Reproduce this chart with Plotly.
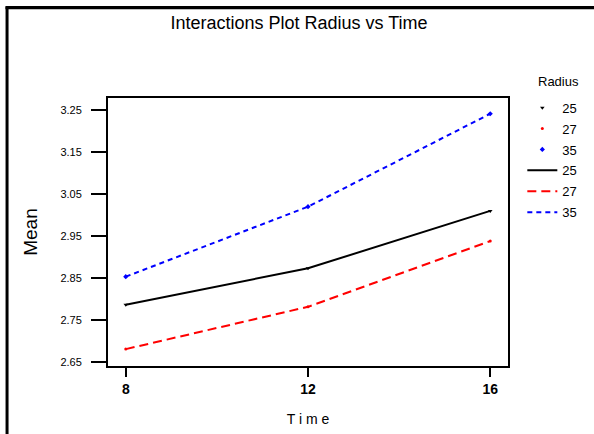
import plotly.graph_objects as go

time = [8, 12, 16]
radius_labels = ["25", "27", "35"]
mean_25 = [2.786, 2.873, 3.010]
mean_27 = [2.680, 2.781, 2.938]
mean_35 = [2.853, 3.020, 3.242]
y_ticks = [2.65, 2.75, 2.85, 2.95, 3.05, 3.15, 3.25]
x_ticks = [8, 12, 16]

series = [mean_25, mean_27, mean_35]
colors = ["black", "red", "blue"]
symbols = ["triangle-down", "circle", "diamond"]
msizes = [4, 3, 4]
dashes = ["solid", "9px,5px", "5px,4px"]

fig = go.Figure()
for i, (lab, vals) in enumerate(zip(radius_labels, series)):
    fig.add_trace(go.Scatter(
        x=time, y=vals, mode="lines", name=lab, showlegend=False,
        line=dict(color=colors[i], width=2, dash=dashes[i]),
    ))
for i, (lab, vals) in enumerate(zip(radius_labels, series)):
    fig.add_trace(go.Scatter(
        x=time, y=vals, mode="markers", name=lab, legendgroup="m" + lab,
        marker=dict(color=colors[i], symbol=symbols[i], size=msizes[i]),
    ))
for i, (lab, vals) in enumerate(zip(radius_labels, series)):
    fig.add_trace(go.Scatter(
        x=[None], y=[None], mode="lines", name=lab, legendgroup="l" + lab,
        line=dict(color=colors[i], width=2, dash=dashes[i]),
    ))

L, R, T, B = 108.3, 507.7, 98.3, 366.0
W, H = 594, 434
pw, ph = R - L, B - T

def px(x):
    return (x - L) / pw

def py(y):
    return (B - y) / ph

shapes = [
    dict(type="line", xref="paper", yref="paper", x0=px(7.5), x1=px(7.5),
         y0=py(7), y1=py(440), line=dict(color="black", width=3)),
]
for yy in [7.0, 8.0, 9.0]:
    shapes.append(dict(type="line", xref="paper", yref="paper", x0=px(6), x1=px(594),
                       y0=py(yy), y1=py(yy), line=dict(color="black", width=1.2)))

fig.update_layout(
    width=W, height=H,
    margin=dict(l=L, r=W - R, t=T, b=H - B, pad=0, autoexpand=False),
    paper_bgcolor="white", plot_bgcolor="white",
    font=dict(family="Liberation Sans, Arial, sans-serif", color="black"),
    title=dict(text="Interactions Plot Radius vs Time", x=299 / W, xanchor="center",
               y=1 - 16 / H, yanchor="top", font=dict(size=18, color="black")),
    showlegend=True,
    legend=dict(
        font=dict(size=13, color="black"),
        x=px(522), xanchor="left", y=py(93), yanchor="top",
        tracegroupgap=1, bgcolor="rgba(0,0,0,0)",
    ),
    annotations=[
        dict(text="Radius", xref="paper", yref="paper", x=px(558), y=py(82),
             xanchor="center", yanchor="middle", showarrow=False,
             font=dict(size=13, color="black")),
    ],
    xaxis=dict(
        range=[7.61, 16.39], tickvals=x_ticks, ticktext=[str(t) for t in x_ticks],
        ticks="outside", ticklen=9, tickwidth=2, tickcolor="black",
        showline=True, linecolor="black", linewidth=2, mirror=True,
        showgrid=False, zeroline=False,
        tickfont=dict(size=14, weight="bold"),
        title=dict(text="T i m e", font=dict(size=14), standoff=18),
    ),
    yaxis=dict(
        range=[2.6397, 3.2796], tickvals=y_ticks, ticktext=[f"{v:.2f}" for v in y_ticks],
        ticks="outside", ticklen=15, tickwidth=2, tickcolor="black",
        showline=True, linecolor="black", linewidth=2, mirror=True,
        showgrid=False, zeroline=False,
        tickfont=dict(size=11), ticklabelstandoff=7,
        title=dict(text="Mean", font=dict(size=19), standoff=18),
    ),
    shapes=shapes,
)

fig.write_html("out.html", config={"displayModeBar": False},
               post_script="document.body.style.margin='0px';")
